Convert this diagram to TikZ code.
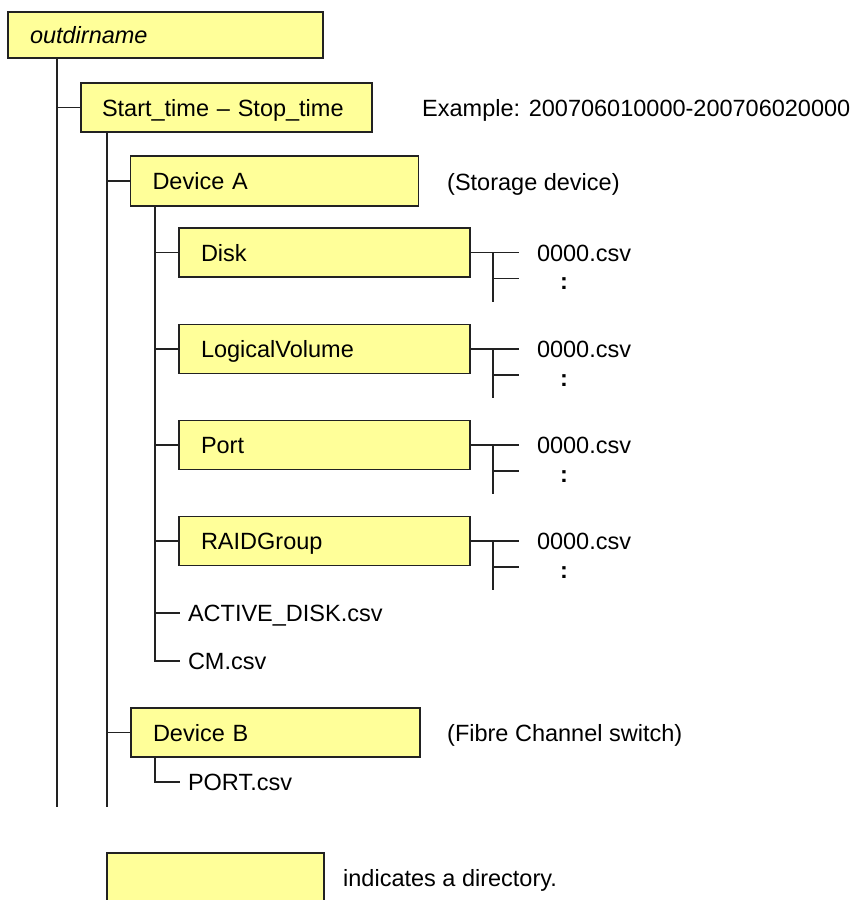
\documentclass[tikz,border=0pt]{standalone}
\usepackage{fontspec}
\setmainfont{Liberation Sans}
\definecolor{dirfill}{HTML}{FFFF99}
\definecolor{lin}{HTML}{222222}
\begin{document}
\begin{tikzpicture}[x=1pt,y=-1pt,
  font=\fontsize{23.5}{28}\selectfont,
  every node/.style={text height=17pt, text depth=0pt},
  dirbox/.style={draw=lin, fill=dirfill, line width=1.8pt, inner xsep=22pt, inner ysep=0pt, align=left},
  conn/.style={draw=lin, line width=1.8pt},
  filetxt/.style={anchor=west, inner sep=0pt, outer xsep=8pt},
  csvtxt/.style={anchor=west, inner sep=0pt, outer xsep=18pt},
  notetxt/.style={anchor=west, inner sep=0pt}
]
\useasboundingbox (0,0) rectangle (859,900);

% directory boxes
\node[dirbox, text width=271pt, minimum height=46pt] (outdir) at (165.5,35) {\itshape outdirname};
\node[dirbox, text width=249pt, minimum height=49pt, inner xsep=21pt] (start) at (226.5,107.5) {Start\_time – Stop\_time};
\node[dirbox, text width=244pt, minimum height=50pt] (devA) at (274.5,181) {Device A};
\node[dirbox, text width=247pt, minimum height=49pt] (disk) at (324.5,252.5) {Disk};
\node[dirbox, text width=247pt, minimum height=49pt] (lv) at (324.5,349) {LogicalVolume};
\node[dirbox, text width=247pt, minimum height=49pt] (port) at (324.5,445) {Port};
\node[dirbox, text width=247pt, minimum height=49pt] (raid) at (324.5,541) {RAIDGroup};
\node[dirbox, text width=245pt, minimum height=49pt] (devB) at (275.5,732.5) {Device B};
\node[dirbox, text width=173pt, minimum height=54pt] (legend) at (215.5,880) {};

% trunk reference coordinates
\coordinate (t1) at (57,807);
\coordinate (t2) at (107,807);
\coordinate (x3) at (155,0);

% files
\node[filetxt] (active) at (180,613) {ACTIVE\_DISK.csv};
\node[filetxt] (cm) at (180,661) {CM.csv};
\node[filetxt] (portcsv) at (180,782) {PORT.csv};

% notes
\node[notetxt] (ex) at (422,107.5) {Example: 200706010000-200706020000};
\node[notetxt] (sto) at (447,182) {(Storage device)};
\node[notetxt] (fc) at (447,733) {(Fibre Channel switch)};
\node[notetxt] (leg) at (343,878) {indicates a directory.};

% trunks
\draw[conn] (outdir.south -| t1) -- (t1);
\draw[conn] (start.west -| t1) -- (start.west);
\draw[conn] (start.south -| t2) -- (t2);
\draw[conn] (devA.west -| t2) -- (devA.west);
\draw[conn] (devB.west -| t2) -- (devB.west);
\draw[conn] (devA.south -| x3) |- (cm.west);
\draw[conn] (active.west -| x3) -- (active.west);
\draw[conn] (devB.south -| x3) |- (portcsv.west);

% subdirectories and their files
\foreach \d/\c in {disk/252.5, lv/349, port/445, raid/541}{
  \draw[conn] (\d.west -| x3) -- (\d.west);
  \node[csvtxt] (\d f) at (519,\c) {0000.csv};
  \coordinate (\d b) at (493,\c+49);
  \coordinate (\d e) at (519,\c+26);
  \node[inner sep=0pt, text height=12pt] (\d dots) at (564,\c+31) {\textbf{:}};
  \draw[conn] (\d.east) -- (\d f.west);
  \draw[conn] (\d.east -| \d b) -- (\d b);
  \draw[conn] (\d e -| \d b) -- (\d e);
}
\end{tikzpicture}
\end{document}
